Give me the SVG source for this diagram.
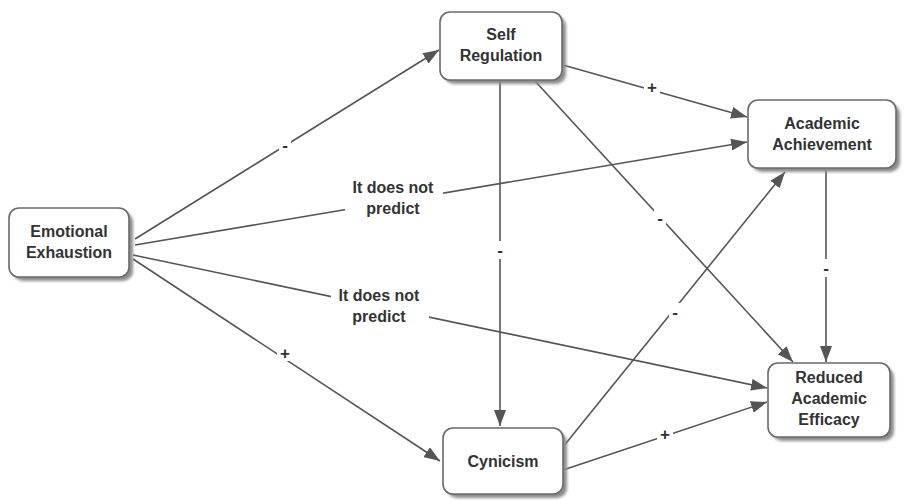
<svg xmlns="http://www.w3.org/2000/svg" width="904" height="500" viewBox="0 0 904 500">
  <style>
    .box { fill: #ffffff; stroke: #6a6a6a; stroke-width: 1.6; }
    .shadow { fill: #8c8c8c; filter: url(#soft); }
    .label { font-family: "Liberation Sans", Arial, sans-serif; font-weight: bold; font-size: 16px; fill: #333333; text-anchor: middle; }
    .edge { stroke: #555555; stroke-width: 1.6; fill: none; marker-end: url(#arrow); }
    .tag { font-family: "Liberation Sans", Arial, sans-serif; font-weight: bold; font-size: 17px; fill: #333333; text-anchor: middle; }
    .tagbg { fill: #ffffff; }
  </style>
  <defs>
    <filter id="soft" x="-10%" y="-10%" width="130%" height="130%">
      <feGaussianBlur stdDeviation="1.5"/>
    </filter>
    <marker id="arrow" viewBox="0 0 16 12" refX="16" refY="6" markerWidth="16" markerHeight="12" markerUnits="userSpaceOnUse" orient="auto">
      <path d="M0,0 L16,6 L0,12 Z" fill="#555555"/>
    </marker>
  </defs>
  <rect width="904" height="500" fill="#ffffff"/>

  <!-- connectors -->
  <g id="connectors">
    <line class="edge" x1="135" y1="239" x2="439" y2="50"/>
    <line class="edge" x1="135" y1="245" x2="747" y2="142"/>
    <line class="edge" x1="133" y1="255" x2="767" y2="388"/>
    <line class="edge" x1="133" y1="259" x2="440" y2="461"/>
    <line class="edge" x1="563" y1="65" x2="747" y2="117"/>
    <line class="edge" x1="535" y1="81" x2="793" y2="362"/>
    <line class="edge" x1="500" y1="81" x2="500" y2="426"/>
    <line class="edge" x1="563" y1="447" x2="785" y2="172"/>
    <line class="edge" x1="563" y1="470" x2="767" y2="402"/>
    <line class="edge" x1="826" y1="169" x2="826" y2="362"/>

    <!-- edge labels -->
    <rect class="tagbg" x="279" y="136" width="12" height="18"/>
    <text class="tag" x="285" y="151">-</text>
    <rect class="tagbg" x="345" y="176" width="98" height="44"/>
    <text class="label" x="393" y="193">It does not</text>
    <text class="label" x="393" y="214">predict</text>
    <rect class="tagbg" x="331" y="284" width="98" height="44"/>
    <text class="label" x="379" y="301">It does not</text>
    <text class="label" x="379" y="322">predict</text>
    <rect class="tagbg" x="277" y="343" width="16" height="18"/>
    <text class="tag" x="285" y="359">+</text>
    <rect class="tagbg" x="644" y="77" width="16" height="18"/>
    <text class="tag" x="652" y="93">+</text>
    <rect class="tagbg" x="654" y="209" width="12" height="18"/>
    <text class="tag" x="660" y="224">-</text>
    <rect class="tagbg" x="494" y="241" width="12" height="18"/>
    <text class="tag" x="500" y="256">-</text>
    <rect class="tagbg" x="669" y="303" width="12" height="18"/>
    <text class="tag" x="675" y="318">-</text>
    <rect class="tagbg" x="820" y="259" width="12" height="18"/>
    <text class="tag" x="826" y="274">-</text>
    <rect class="tagbg" x="657" y="424" width="16" height="18"/>
    <text class="tag" x="665" y="440">+</text>
  </g>

  <!-- nodes -->
  <g id="emotional-exhaustion">
    <rect class="shadow" x="13" y="212" width="120" height="69" rx="10"/>
    <rect class="box" x="9" y="208" width="120" height="69" rx="10"/>
    <text class="label" x="69" y="237">Emotional</text>
    <text class="label" x="69" y="258">Exhaustion</text>
  </g>
  <g id="self-regulation">
    <rect class="shadow" x="444" y="16" width="122" height="68" rx="10"/>
    <rect class="box" x="440" y="12" width="122" height="68" rx="10"/>
    <text class="label" x="501" y="40">Self</text>
    <text class="label" x="501" y="61">Regulation</text>
  </g>
  <g id="academic-achievement">
    <rect class="shadow" x="752" y="104" width="148" height="68" rx="10"/>
    <rect class="box" x="748" y="100" width="148" height="68" rx="10"/>
    <text class="label" x="822" y="129">Academic</text>
    <text class="label" x="822" y="150">Achievement</text>
  </g>
  <g id="reduced-academic-efficacy">
    <rect class="shadow" x="772" y="367" width="122" height="74" rx="10"/>
    <rect class="box" x="768" y="363" width="122" height="74" rx="10"/>
    <text class="label" x="829" y="383">Reduced</text>
    <text class="label" x="829" y="404">Academic</text>
    <text class="label" x="829" y="425">Efficacy</text>
  </g>
  <g id="cynicism">
    <rect class="shadow" x="447" y="432" width="120" height="66" rx="10"/>
    <rect class="box" x="443" y="428" width="120" height="66" rx="10"/>
    <text class="label" x="503" y="467">Cynicism</text>
  </g>
</svg>
